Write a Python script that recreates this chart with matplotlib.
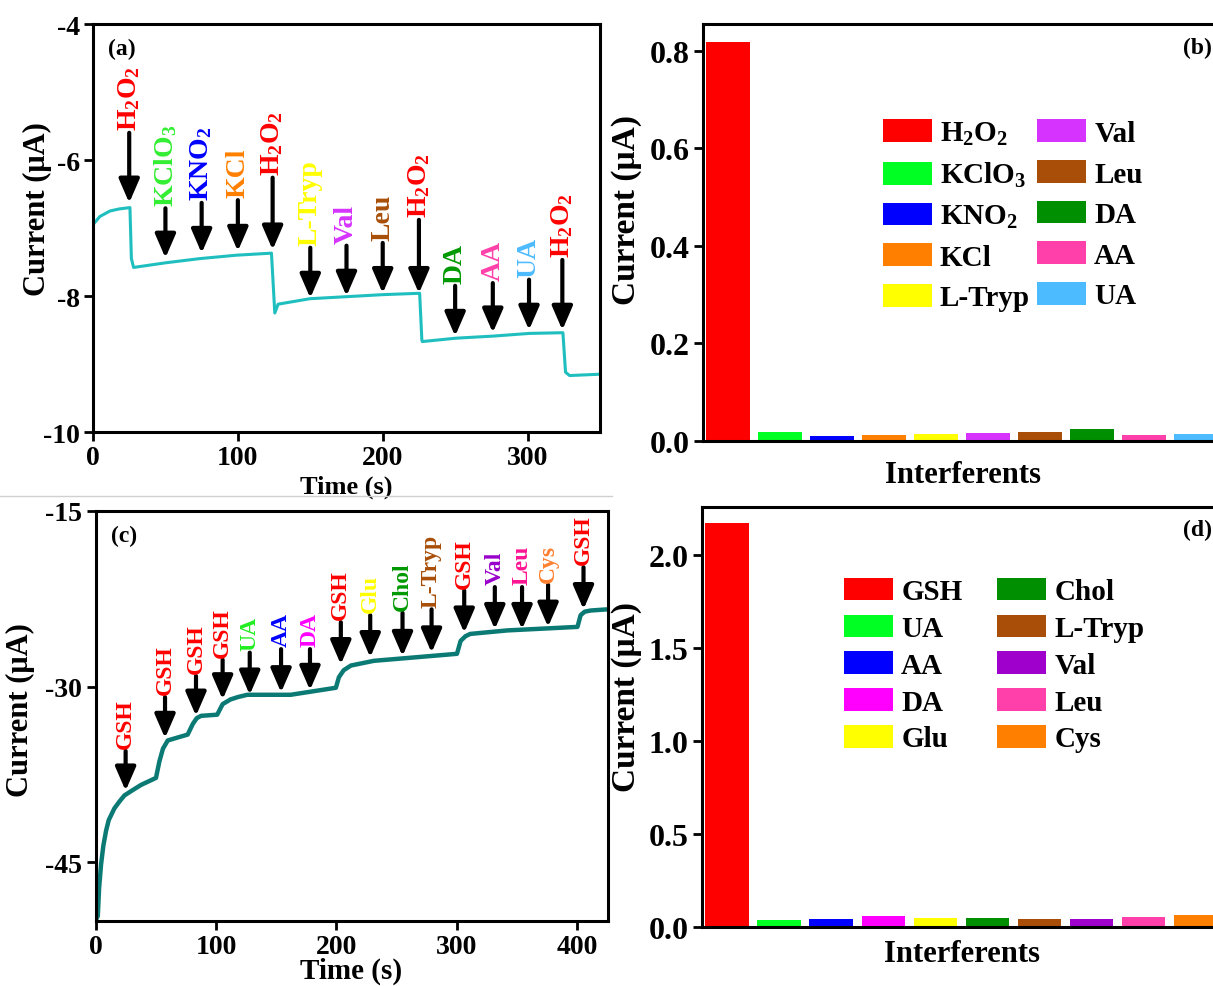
import matplotlib
matplotlib.use("Agg")
import matplotlib.pyplot as plt
from matplotlib.ticker import FormatStrFormatter
from matplotlib.lines import Line2D

#------------------------------#
# Data
#------------------------------#

# (a) amperometric trace, H2O2 sensing
a_time = [0, 4.8, 11.7, 18, 25.5, 26.5, 28, 50.8, 73.8, 99, 123.2, 125.5, 127.8,
          149.7, 175, 200.2, 225.5, 227, 227.3, 250.8, 276, 301.4, 324.4, 326.2, 329, 350]
a_current = [-6.95, -6.83, -6.75, -6.72, -6.70, -7.45, -7.58, -7.51, -7.45, -7.40, -7.37, -8.25, -8.12,
             -8.04, -8.01, -7.98, -7.96, -8.64, -8.67, -8.62, -8.59, -8.55, -8.54, -9.12, -9.17, -9.15]
a_add_t = [25, 50, 75, 100, 124, 150, 175, 200, 225, 250, 276, 301, 324]
a_add_tail = [-5.6, -6.71, -6.63, -6.59, -6.26, -7.29, -7.26, -7.22, -6.88, -7.85, -7.81, -7.76, -7.47]
a_add_tip = [-6.63, -7.44, -7.37, -7.34, -7.32, -8.03, -8.0, -7.96, -7.96, -8.59, -8.54, -8.5, -8.5]
a_add_labels = [r'H$_2$O$_2$', r'KClO$_3$', r'KNO$_2$', 'KCl', r'H$_2$O$_2$', 'L-Tryp', 'Val', 'Leu',
                r'H$_2$O$_2$', 'DA', 'AA', 'UA', r'H$_2$O$_2$']
a_add_colors = ['#ff0000', '#33ee33', '#0000ff', '#ff8000', '#ff0000', '#ffff00', '#d633ff', '#a84e08',
                '#ff0000', '#009900', '#ff40aa', '#4dbbff', '#ff0000']

# (b) interference bars, H2O2
b_names = [r'H$_2$O$_2$', r'KClO$_3$', r'KNO$_2$', 'KCl', 'L-Tryp', 'Val', 'Leu', 'DA', 'AA', 'UA']
b_values = [0.818, 0.019, 0.010, 0.013, 0.015, 0.017, 0.018, 0.025, 0.013, 0.015]
b_colors = ['#ff0000', '#00ff22', '#0000ff', '#ff8000', '#ffff00', '#d633ff', '#a84e08', '#008f00',
            '#ff40aa', '#4dbbff']

# (c) amperometric trace, GSH sensing
c_time = [0, 1.9, 3, 4.6, 6.5, 8.8, 11, 15.7, 20, 24, 30, 37.8, 44, 50.2, 53, 56, 60, 76.5, 80.7, 84,
          87.6, 101, 105.5, 112, 118, 126, 162, 199.5, 202, 206, 212, 231, 300, 303, 307, 311, 342,
          400, 402.6, 406, 411, 425]
c_current = [-50, -49.6, -47.2, -45.2, -43.6, -42.3, -41.4, -40.4, -39.8, -39.3, -38.9, -38.4, -38.1,
             -37.8, -36.4, -35.3, -34.6, -34.1, -33.2, -32.7, -32.5, -32.4, -31.5, -31.1, -30.9,
             -30.7, -30.7, -30.1, -29.2, -28.6, -28.2, -27.8, -27.2, -26.1, -25.7, -25.5, -25.2,
             -24.9, -23.9, -23.6, -23.5, -23.4]
c_add_t = [25, 57.7, 83.4, 105.5, 128, 154, 178, 203.6, 228, 254.8, 278.9, 306, 331.4, 354, 375.6, 405]
c_add_tail = [-35.5, -30.9, -29.1, -27.7, -27.1, -26.8, -26.8, -24.5, -23.9, -23.7, -23.4, -21.8,
              -21.5, -21.5, -21.3, -19.8]
c_add_tip = [-38.9, -34.4, -32.5, -31.1, -30.7, -30.5, -30.3, -28.1, -27.5, -27.4, -27.1, -25.4,
             -25.1, -25.1, -24.9, -23.4]
c_add_labels = ['GSH', 'GSH', 'GSH', 'GSH', 'UA', 'AA', 'DA', 'GSH', 'Glu', 'Chol', 'L-Tryp', 'GSH',
                'Val', 'Leu', 'Cys', 'GSH']
c_add_colors = ['#ff0000', '#ff0000', '#ff0000', '#ff0000', '#22ee22', '#0000ff', '#ff00ff', '#ff0000',
                '#ffff00', '#009900', '#a84e08', '#ff0000', '#9900cc', '#ff1493', '#ff8030', '#ff0000']

# (d) interference bars, GSH
d_names = ['GSH', 'UA', 'AA', 'DA', 'Glu', 'Chol', 'L-Tryp', 'Val', 'Leu', 'Cys']
d_values = [2.17, 0.036, 0.041, 0.059, 0.047, 0.047, 0.041, 0.041, 0.052, 0.065]
d_colors = ['#ff0000', '#00ff22', '#0000ff', '#ff00ff', '#ffff00', '#008f00', '#a84e08', '#a000cc',
            '#ff40aa', '#ff8000']

#------------------------------#
# Style
#------------------------------#

plt.rcParams['font.family'] = ['Liberation Serif', 'DejaVu Serif']
plt.rcParams['font.weight'] = 'bold'
plt.rcParams['axes.labelweight'] = 'bold'
plt.rcParams['axes.unicode_minus'] = False
plt.rcParams['mathtext.fontset'] = 'custom'
plt.rcParams['mathtext.rm'] = 'Liberation Serif:bold'
plt.rcParams['mathtext.it'] = 'Liberation Serif:bold'
plt.rcParams['mathtext.bf'] = 'Liberation Serif:bold'
plt.rcParams['mathtext.default'] = 'rm'

W, H = 1213, 987
fig = plt.figure(figsize=(W / 100, H / 100), dpi=100)


def px_axes(left, top, right, bottom):
    return fig.add_axes([left / W, 1 - bottom / H, (right - left) / W, (bottom - top) / H])


def style_axes(ax, tick_size):
    for s in ax.spines.values():
        s.set_linewidth(2.2)
    ax.tick_params(direction='out', length=6.5, width=2, labelsize=tick_size, pad=3)


def add_arrows(ax, ts, tails, tips, labels, colors, fsize):
    for t, tail, tip, lab, col in zip(ts, tails, tips, labels, colors):
        ax.annotate('', xy=(t, tip), xytext=(t, tail),
                    arrowprops=dict(arrowstyle='-|>,head_length=0.6,head_width=0.26',
                                    lw=3, color='black', mutation_scale=24,
                                    shrinkA=0, shrinkB=0))
        ax.annotate(lab, xy=(t, tail), xytext=(0, 2), textcoords='offset points',
                    rotation=90, ha='center', va='bottom', color=col,
                    fontsize=fsize, fontweight='bold')


# Panel (a)
ax_a = px_axes(93, 25, 600, 433)
ax_a.plot(a_time, a_current, color='#1fbfbf', lw=2.2)
add_arrows(ax_a, a_add_t, a_add_tail, a_add_tip, a_add_labels, a_add_colors, 20)
ax_a.set_xlim(0, 350)
ax_a.set_ylim(-10, -4)
ax_a.set_xticks([0, 100, 200, 300])
ax_a.set_yticks([-10, -8, -6, -4])
style_axes(ax_a, 20)
ax_a.set_xlabel('Time (s)', fontsize=19)
ax_a.set_ylabel('Current (\u03bcA)', fontsize=22)
ax_a.xaxis.set_label_coords(0.5, -0.105)
ax_a.yaxis.set_label_coords(-0.081, 0.548)
ax_a.text(0.03, 0.94, '(a)', transform=ax_a.transAxes, fontsize=17, fontweight='bold',
          ha='left', va='center')

# Panel (c)
ax_c = px_axes(95.5, 512, 607.6, 921.7)
ax_c.plot(c_time, c_current, color='#0b7a75', lw=3.2)
add_arrows(ax_c, c_add_t, c_add_tail, c_add_tip, c_add_labels, c_add_colors, 17)
ax_c.set_xlim(0, 425)
ax_c.set_ylim(-50, -15)
ax_c.set_xticks([0, 100, 200, 300, 400])
ax_c.set_yticks([-45, -30, -15])
style_axes(ax_c, 20)
ax_c.set_xlabel('Time (s)', fontsize=21)
ax_c.set_ylabel('Current (\u03bcA)', fontsize=22)
ax_c.xaxis.set_label_coords(0.5, -0.088)
ax_c.yaxis.set_label_coords(-0.118, 0.517)
ax_c.text(0.03, 0.94, '(c)', transform=ax_c.transAxes, fontsize=17, fontweight='bold',
          ha='left', va='center')

# Panel (b)
ax_b = px_axes(703, 25, 1222, 442)
bars = ax_b.bar(range(len(b_values)), b_values, width=0.83, color=b_colors)
ax_b.set_xlim(-0.48, 9.5)
ax_b.set_ylim(0, 0.855)
ax_b.set_xticks([])
ax_b.set_yticks([0.0, 0.2, 0.4, 0.6, 0.8])
ax_b.yaxis.set_major_formatter(FormatStrFormatter('%.1f'))
style_axes(ax_b, 23)
ax_b.set_xlabel('Interferents', fontsize=22)
ax_b.set_ylabel('Current (\u03bcA)', fontsize=24)
ax_b.xaxis.set_label_coords(0.5, -0.045)
ax_b.yaxis.set_label_coords(-0.1175, 0.556)
ax_b.legend(bars, b_names, ncol=2, loc='upper left', bbox_to_anchor=(0.347, 0.771),
            frameon=False, fontsize=21, borderpad=0, borderaxespad=0, handlelength=1.68,
            handleheight=0.82, handletextpad=0.27, columnspacing=0.25, labelspacing=0.45)
fig.text(1197 / W, 1 - 48 / H, '(b)', fontsize=17, fontweight='bold', ha='center', va='center')

# Panel (d)
ax_d = px_axes(701.7, 508.3, 1222, 927.7)
bars = ax_d.bar(range(len(d_values)), d_values, width=0.83, color=d_colors)
ax_d.set_xlim(-0.483, 9.5)
ax_d.set_ylim(0, 2.255)
ax_d.set_xticks([])
ax_d.set_yticks([0.0, 0.5, 1.0, 1.5, 2.0])
ax_d.yaxis.set_major_formatter(FormatStrFormatter('%.1f'))
style_axes(ax_d, 23)
ax_d.set_xlabel('Interferents', fontsize=22)
ax_d.set_ylabel('Current (\u03bcA)', fontsize=24)
ax_d.xaxis.set_label_coords(0.5, -0.029)
ax_d.yaxis.set_label_coords(-0.115, 0.55)
ax_d.legend(bars, d_names, ncol=2, loc='upper left', bbox_to_anchor=(0.274, 0.832),
            frameon=False, fontsize=21, borderpad=0, borderaxespad=0, handlelength=1.68,
            handleheight=0.82, handletextpad=0.27, columnspacing=1.2, labelspacing=0.32)
fig.text(1197 / W, 1 - 530 / H, '(d)', fontsize=17, fontweight='bold', ha='center', va='center')

# thin separator between the top and bottom left panels
fig.add_artist(Line2D([0, 612 / W], [1 - 497 / H, 1 - 497 / H], color='#d0d0d0', lw=1))

fig.savefig('out.png', dpi=100)
